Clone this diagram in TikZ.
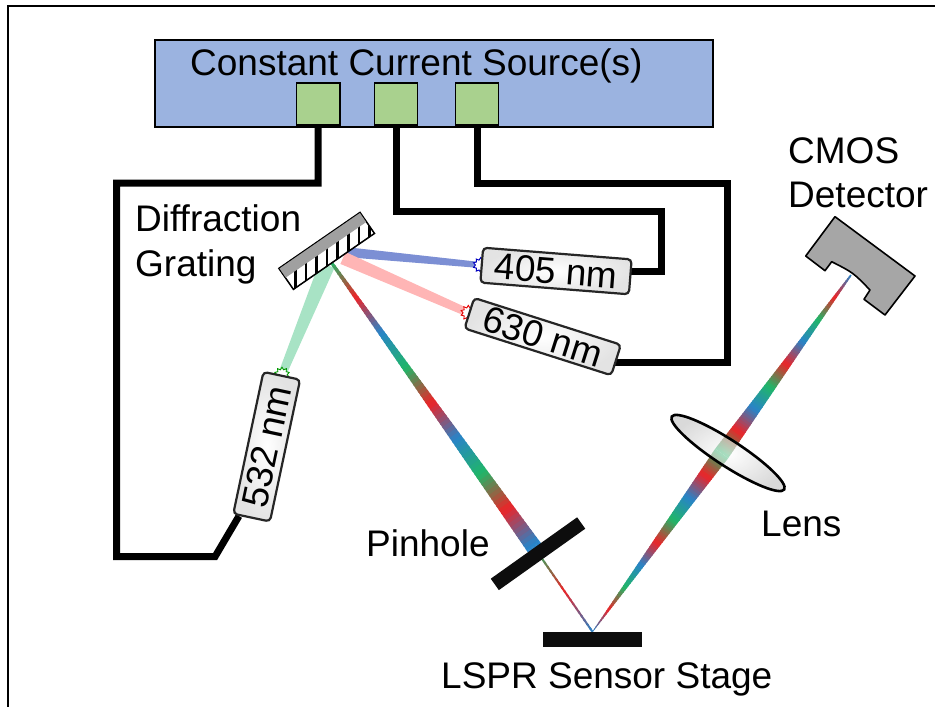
\documentclass[tikz,border=0pt]{standalone}
\usepackage{fontspec}
\setmainfont{Liberation Sans}
\usetikzlibrary{calc,shapes.geometric}
\pgfdeclarelayer{beams}
\pgfsetlayers{beams,main}

\definecolor{srcblue}{RGB}{155,179,224}
\definecolor{padgreen}{RGB}{169,209,142}
\definecolor{beamviolet}{RGB}{124,143,212}
\definecolor{beampink}{RGB}{255,181,181}
\definecolor{beamgreen}{RGB}{168,227,197}
\definecolor{rR}{RGB}{236,36,40}
\definecolor{rG}{RGB}{32,182,104}
\definecolor{rB}{RGB}{40,132,200}
\definecolor{detgray}{RGB}{166,166,166}
\definecolor{grategray}{RGB}{160,160,160}

\newcommand\labelfont{\fontsize{37}{40}\selectfont}

% corner points of a tapered beam: prefix, from, to, half width at start, half width at end
\newcommand\taper[5]{%
  \coordinate (#1a) at ($(#2)!#4!90:(#3)$);
  \coordinate (#1b) at ($(#2)!#4!-90:(#3)$);
  \coordinate (#1c) at ($(#3)!#5!-90:(#2)$);
  \coordinate (#1d) at ($(#3)!#5!90:(#2)$);
}
% fill a tapered beam with colour stops t0/t1/colour0/colour1
\newcommand\spectrum[2]{%
  \foreach \ta/\tb/\ca/\cb in {#2}{%
    \foreach \k in {0,...,9}{%
      \pgfmathsetmacro\sa{\ta+(\tb-\ta)*\k/10}%
      \pgfmathsetmacro\sb{min(\ta+(\tb-\ta)*(\k+1.4)/10,1)}%
      \pgfmathtruncatemacro\pc{95-10*\k}%
      \fill[fill=\ca!\pc!\cb]
        ($(#1a)!\sa!(#1c)$) -- ($(#1a)!\sb!(#1c)$) --
        ($(#1b)!\sb!(#1d)$) -- ($(#1b)!\sa!(#1d)$) -- cycle;
    }%
  }%
}

\begin{document}
\begin{tikzpicture}[x=1pt,y=1pt,
  lbl/.style={font=\labelfont, inner sep=0pt, anchor=base west},
  pad/.style={draw=black, line width=1.2pt, fill=padgreen, minimum width=43.5pt, minimum height=42pt, inner sep=0pt},
  laser/.style={draw=black!85, line width=2.2pt, rounded corners=4pt, inner color=white, outer color=gray!22, inner sep=0pt, font=\labelfont},
  wire/.style={line width=7pt, black},
  emitter/.style={star, star points=10, star point ratio=1.45, minimum size=15pt, inner sep=0pt, fill=white, line width=0.9pt},
  solidbar/.style={fill=black!95, inner sep=0pt}
]
\useasboundingbox (0,0) rectangle (935,-707);
\draw[line width=2.4pt] (8,-707) -- (8,-6) -- (935,-6);

% current source with its three outputs
\node[draw=black, line width=1.5pt, fill=srcblue, minimum width=558pt, minimum height=87pt, inner sep=0pt] (src) at (434,-83.5) {};
\node[lbl] (srctext) at (190,-75) {Constant Current Source(s)};
\node[pad] (pad1) at (318.2,-104) {};
\node[pad] (pad2) at (396,-104) {};
\node[pad] (pad3) at (477,-104) {};

% laser diodes
\node[laser, minimum width=149pt, minimum height=35pt, rotate=-4.5] (l405) at (556,-271) {405 nm};
\node[laser, minimum width=154pt, minimum height=32pt, rotate=-17.7] (l630) at (542.7,-336.6) {630 nm};
\node[laser, minimum width=145pt, minimum height=37.5pt, rotate=78] (l532) at (266.7,-446.7) {532 nm};

% diffraction grating
\node[draw=black, fill=white, line width=1pt, minimum width=98pt, minimum height=25pt, inner sep=0pt, rotate=34.6] (grating) at (326.7,-250.9) {};
\fill[grategray] (grating.north west) -- (grating.north east)
  -- ($(grating.north east)!0.45!(grating.south east)$)
  -- ($(grating.north west)!0.45!(grating.south west)$) -- cycle;
\begin{scope}
  \clip ($(grating.north west)!0.45!(grating.south west)$) -- ($(grating.north east)!0.45!(grating.south east)$)
    -- (grating.south east) -- (grating.south west) -- cycle;
  \foreach \k in {0,...,7}
    \draw[line width=2.6pt] ($(grating.center)+(-31.5+10.6*\k,40)$) -- ++(0,-80);
\end{scope}
\draw[line width=1pt] (grating.north west) -- (grating.north east) -- (grating.south east) -- (grating.south west) -- cycle;

% pinhole and sensor stage
\node[solidbar, minimum width=106pt, minimum height=14pt, rotate=35.4] (pinhole) at (538,-553.7) {};
\node[solidbar, minimum width=99pt, minimum height=15pt] (stage) at (592.5,-639.5) {};

% lens
\node[ellipse, draw=black, line width=2.6pt, minimum width=134pt, minimum height=26pt, inner sep=0pt, rotate=-33,
  inner color=white, outer color=gray!50, fill opacity=0.6] (lens) at (728,-453) {};

% CMOS detector
\coordinate (det) at (851,-275);
\draw[fill=detgray, line width=1.6pt, line join=round] (835,-216.7) -- (915,-276) -- (885,-315) -- (864,-299.3)
  -- (870,-290) .. controls (853.3,-272.7) .. (831.7,-261.7) -- (825,-270.7) -- (805.7,-256) -- cycle;

\begin{pgfonlayer}{beams}
  % supply wires
  \draw[wire] (pad1.south) |- (116.7,-183) |- (215,-556.7) -- ($(l532.north west)!0.18!(l532.south west)$);
  \draw[wire] (pad2.south) |- (661,-211.7) |- (l405.center);
  \draw[wire] (pad3.south) |- (727.5,-183) |- ($(l630.east)+(0,-2)$) -- ++(-20,0);

  % laser beams onto the grating
  \coordinate (gBlue) at (345,-252);
  \coordinate (gPink) at (343,-258);
  \coordinate (gGreen) at (327,-265);
  \coordinate (gSpec) at (331,-262);
  \coordinate (pin) at (536,-550);
  \taper{bv}{gBlue}{l405.west}{5pt}{3pt}
  \fill[beamviolet] (bva) -- (bvc) -- (bvd) -- (bvb) -- cycle;
  \taper{bp}{gPink}{l630.west}{6.5pt}{4pt}
  \fill[beampink] (bpa) -- (bpc) -- (bpd) -- (bpb) -- cycle;
  \taper{bg}{gGreen}{l532.east}{8pt}{4pt}
  \fill[beamgreen] (bga) -- (bgc) -- (bgd) -- (bgb) -- cycle;

  % dispersed light: grating -> pinhole -> stage -> lens -> detector
  \taper{sa}{gSpec}{pin}{1.5pt}{8pt}
  \spectrum{sa}{0/.1225/rG/rR, .1225/.245/rR/rB, .245/.3675/rB/rG, .3675/.49/rG/rR, .49/.6125/rR/rB,
    .6125/.735/rB/rG, .735/.8575/rG/rR, .8575/.98/rR/rB, .98/1/rB/rB}
  \taper{sb}{pin}{stage.north}{1pt}{1pt}
  \spectrum{sb}{0/.5/rG/rR, .5/1/rR/rB}
  \coordinate (mid) at ($(stage.north)!0.5!(det)$);
  \taper{sc}{stage.north}{mid}{0.3pt}{8pt}
  \spectrum{sc}{0/.125/rB/rR, .125/.25/rR/rG, .25/.375/rG/rB, .375/.5/rB/rR, .5/.625/rR/rG,
    .625/.75/rG/rB, .75/.875/rB/rR, .875/1/rR/rG}
  \taper{sd}{mid}{det}{8pt}{0.8pt}
  \spectrum{sd}{0/.125/rG/rR, .125/.25/rR/rB, .25/.375/rB/rG, .375/.5/rG/rR, .5/.625/rR/rB,
    .625/.75/rB/rG, .75/.875/rG/rR, .875/1/rR/rB}

  % emitter facets
  \node[emitter, draw=blue!75!black] (em405) at (l405.west) {};
  \node[emitter, draw=red!90!black] (em630) at (l630.west) {};
  \node[emitter, draw=green!60!black] (em532) at (l532.east) {};
\end{pgfonlayer}

% labels
\node[lbl] (lblgr1) at (135,-231.5) {Diffraction};
\node[lbl] (lblgr2) at (135,-276.5) {Grating};
\node[lbl] (lbldet1) at (788,-163) {CMOS};
\node[lbl] (lbldet2) at (788,-207) {Detector};
\node[lbl] (lblpin) at (366,-556.7) {Pinhole};
\node[lbl] (lbllens) at (761,-536.7) {Lens};
\node[lbl] (lblstage) at (441,-688) {LSPR Sensor Stage};
\end{tikzpicture}
\end{document}
